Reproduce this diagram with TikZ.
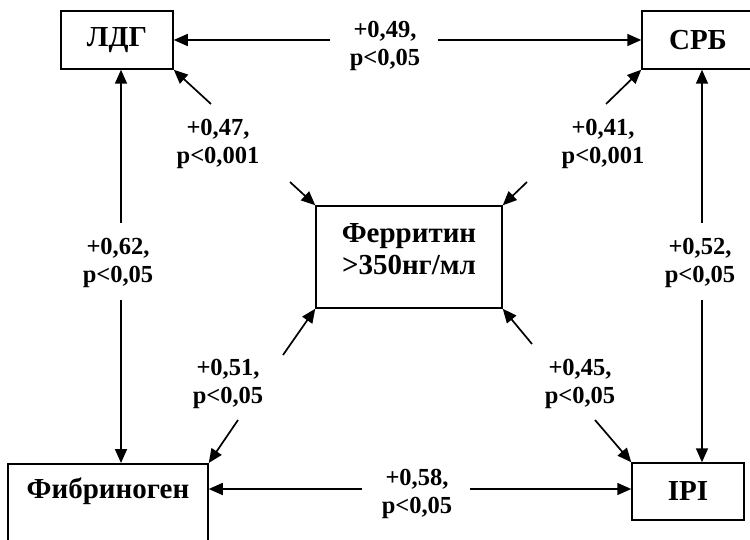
\documentclass[tikz,border=0pt]{standalone}
\usepackage{fontspec}
\setmainfont{Liberation Serif}
\usetikzlibrary{arrows.meta}

\begin{document}
\begin{tikzpicture}[x=1pt,y=-1pt,
  box/.style={draw, line width=1.5pt, inner sep=0pt, align=center,
    font=\fontsize{29}{32}\selectfont\bfseries},
  lab/.style={inner sep=0pt, align=center,
    font=\fontsize{24.5}{28}\selectfont\bfseries},
  link/.style={line width=1.7pt},
  arr/.style={-{Triangle[length=14pt,width=12pt]}},
]
\useasboundingbox (0,0) rectangle (750,540);
\clip (0,0) rectangle (750,540);

% boxes
\node[box, minimum width=112pt, minimum height=58pt] (ldg) at (117,40) {ЛДГ};
\node[box, minimum width=112pt, minimum height=58pt] (crp) at (698,40) {СРБ};
\node[box, minimum width=186pt, minimum height=102pt, text depth=16pt] (fer) at (409,257) {Ферритин\\>350нг/мл};
\node[box, minimum width=112pt, minimum height=57pt] (ipi) at (688,491.5) {IPI};
\node[box, anchor=north, minimum width=200pt, text height=35pt, text depth=65pt] (fib) at (108,463) {Фибриноген};

% free ends of the interrupted connectors
\coordinate (h1a) at (330,40);  \coordinate (h1b) at (438,40);
\coordinate (h2a) at (362,489); \coordinate (h2b) at (470,489);
\coordinate (v1a) at (121,223); \coordinate (v1b) at (121,300);
\coordinate (v2a) at (702,223); \coordinate (v2b) at (702,300);
\coordinate (d1a) at (211,104); \coordinate (d1b) at (290,182);
\coordinate (d2a) at (606,104); \coordinate (d2b) at (527,182);
\coordinate (d3a) at (283,355); \coordinate (d3b) at (238,420);
\coordinate (d4a) at (532,344); \coordinate (d4b) at (595,420);

% connectors
\draw[link, arr] (h1a) -- (ldg.east);
\draw[link, arr] (h1b) -- (crp.west);
\draw[link, arr] (h2a) -- (h2a -| fib.east);
\draw[link, arr] (h2b) -- (h2b -| ipi.west);
\draw[link, arr] (v1a) -- (v1a |- ldg.south);
\draw[link, arr] (v1b) -- (v1b |- fib.north);
\draw[link, arr] (v2a) -- (v2a |- crp.south);
\draw[link, arr] (v2b) -- (v2b |- ipi.north);
\draw[link, arr] (d1a) -- (ldg.south east);
\draw[link, arr] (d1b) -- (fer.north west);
\draw[link, arr] (d2a) -- (crp.south west);
\draw[link, arr] (d2b) -- (fer.north east);
\draw[link, arr] (d3a) -- (fer.south west);
\draw[link, arr] (d3b) -- (fib.north east);
\draw[link, arr] (d4a) -- (fer.south east);
\draw[link, arr] (d4b) -- (ipi.north west);

% correlation labels
\node[lab] (l1) at (385,46) {+0,49,\\p<0,05};
\node[lab] (l2) at (118,263) {+0,62,\\p<0,05};
\node[lab] (l3) at (700,263) {+0,52,\\p<0,05};
\node[lab] (l4) at (417,494) {+0,58,\\p<0,05};
\node[lab] (l5) at (218,144) {+0,47,\\p<0,001};
\node[lab] (l6) at (603,144) {+0,41,\\p<0,001};
\node[lab] (l7) at (228,384) {+0,51,\\p<0,05};
\node[lab] (l8) at (580,384) {+0,45,\\p<0,05};
\end{tikzpicture}
\end{document}
